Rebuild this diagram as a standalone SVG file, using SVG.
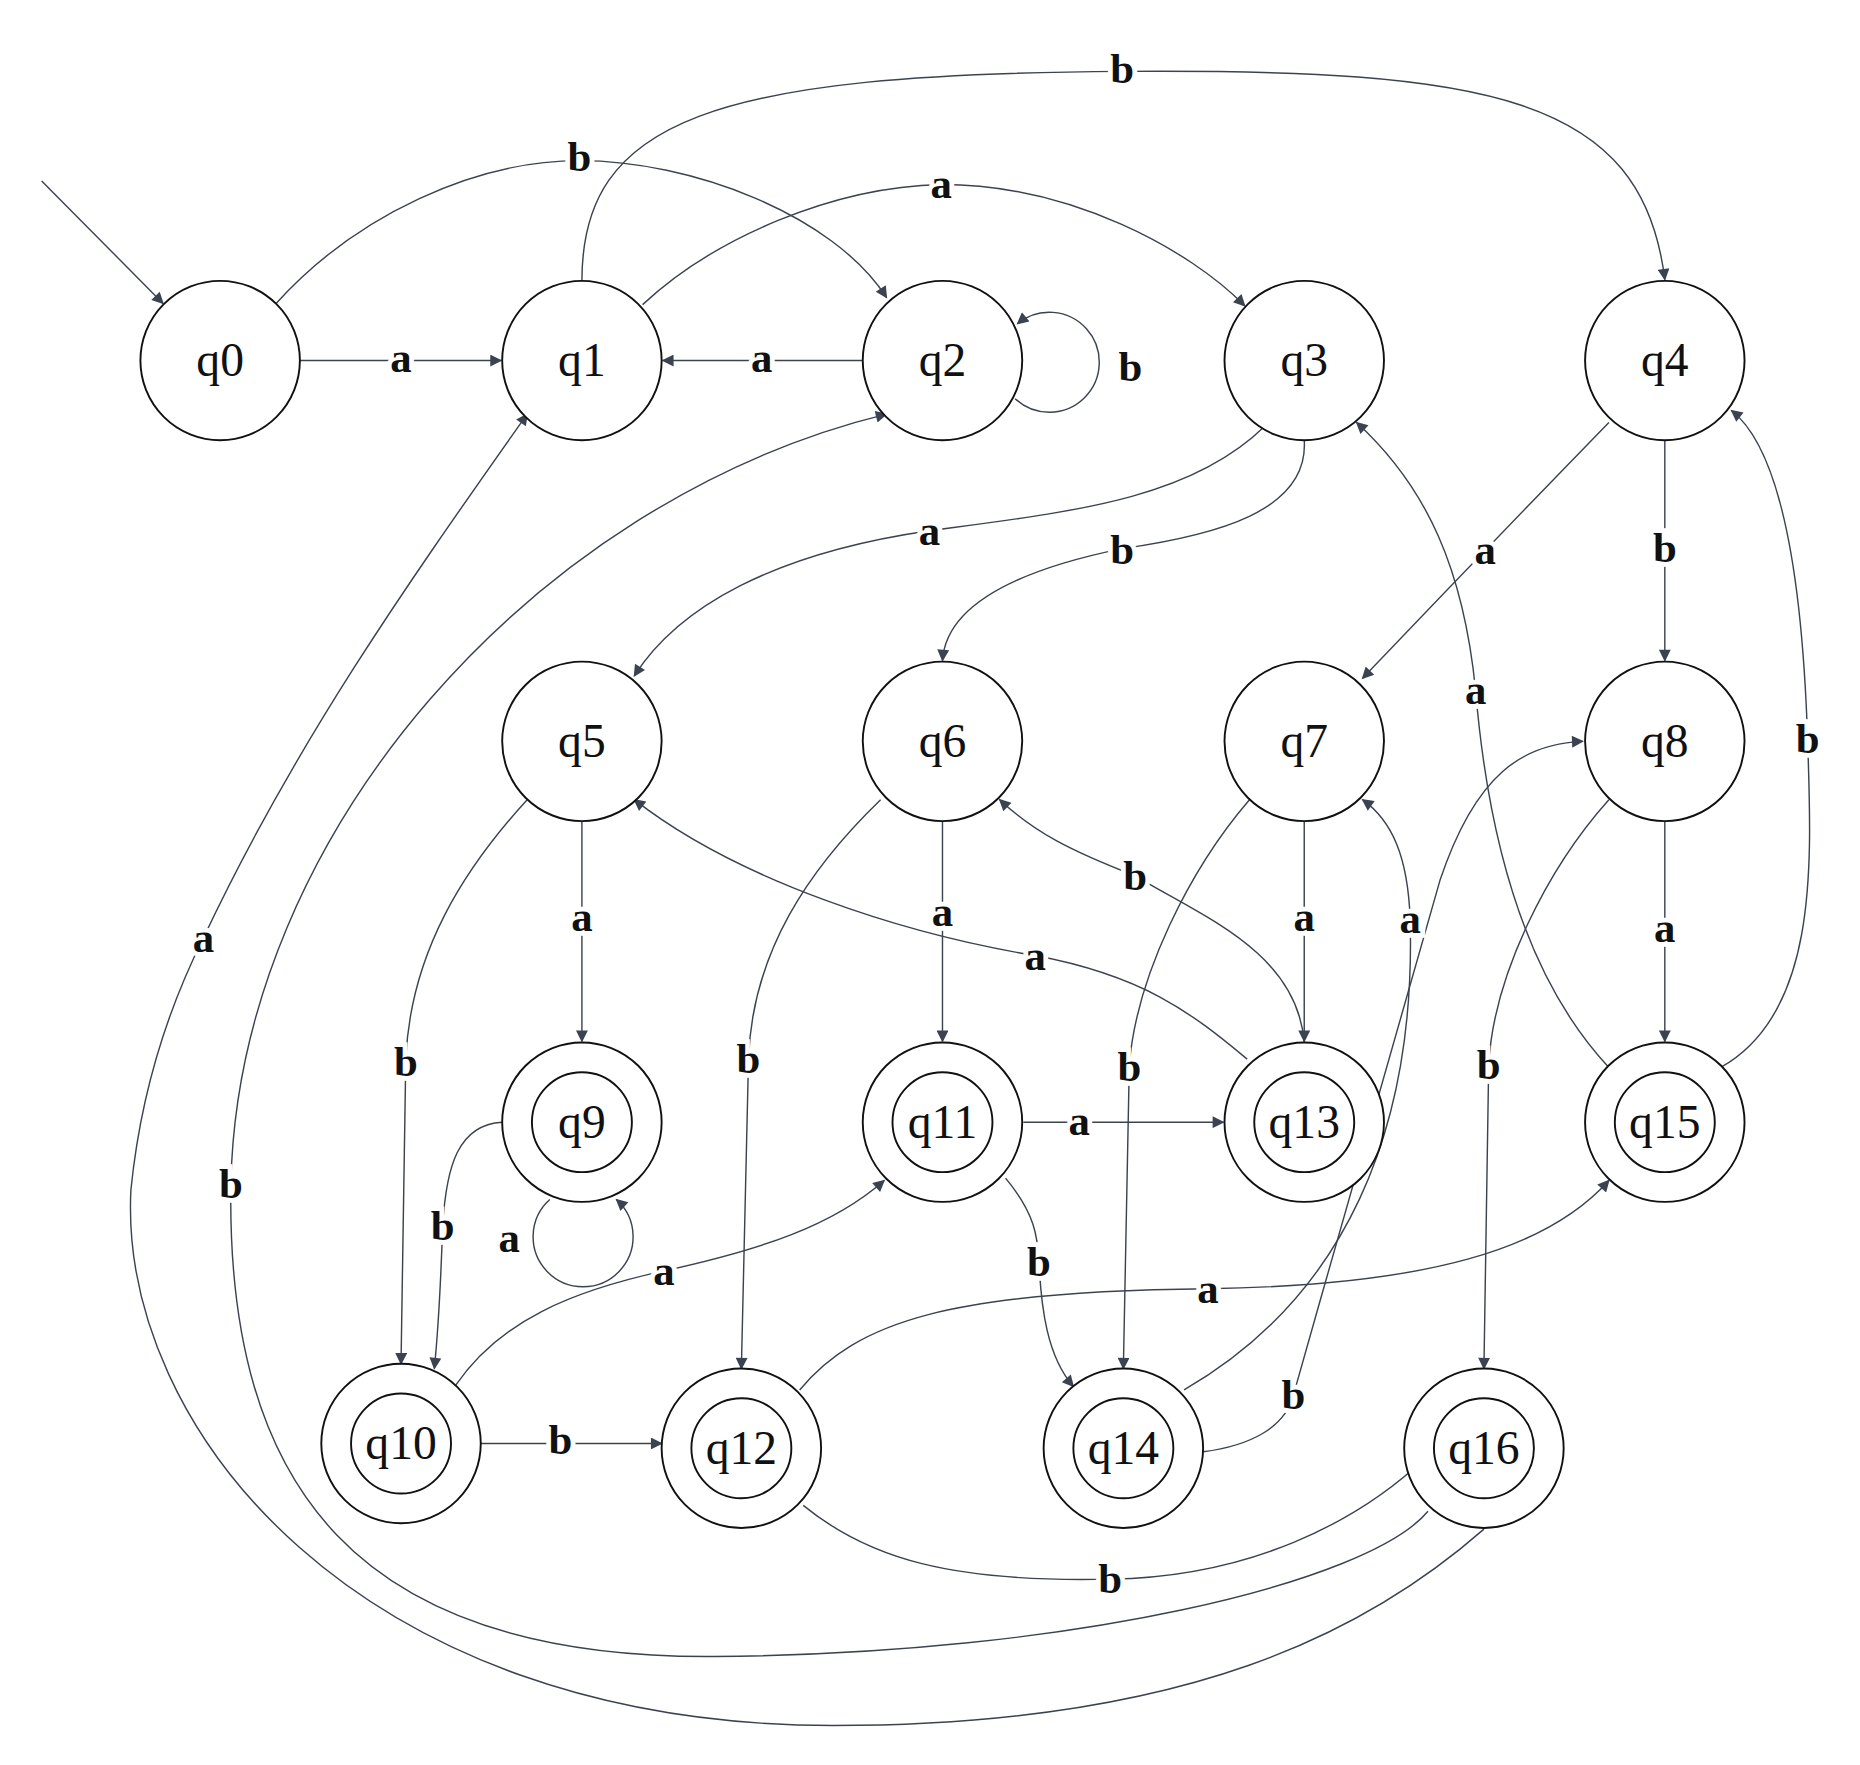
<svg xmlns="http://www.w3.org/2000/svg" width="1860" height="1765" viewBox="0 0 1860 1765">
<style>
.n{fill:#fff;stroke:#111;stroke-width:1.6}
.t{font-family:"Liberation Serif",serif;font-size:40px;text-anchor:middle;fill:#111}
.e{fill:none;stroke:#3c4350;stroke-width:1.2;marker-end:url(#ar)}
.l{font-family:"Liberation Serif",serif;font-weight:bold;font-size:36px;text-anchor:middle;fill:#111;stroke:#fff;stroke-width:8;paint-order:stroke}
</style>
<defs><marker id="ar" viewBox="0 0 10 10" refX="9" refY="5" markerWidth="12" markerHeight="10" markerUnits="userSpaceOnUse" orient="auto"><path d="M0,0L10,5L0,10z" fill="#3c4350"/></marker></defs>
<rect width="1860" height="1765" fill="#fff"/>
<g transform="scale(1.19)">
<g id="connectors">
<path class="e" d="M35,152L137,255"/>
<path class="e" d="M252,303L421,303"/>
<path class="e" d="M232,255C300,180 400,135 487,135C580,135 700,180 745,250"/>
<path class="e" d="M489,236C489,100 600,62 943,60C1250,58 1380,80 1399,235"/>
<path class="e" d="M540,256C600,200 700,157 791,155C900,155 1000,210 1046,257"/>
<path class="e" d="M725,303L557,303"/>
<path class="e" d="M853,335A42,42 0 1 0 855,272"/>
<path class="e" d="M1063,358C1000,420 900,430 781,446C650,465 570,510 533,568"/>
<path class="e" d="M1096,370C1100,430 1020,450 943,461C850,480 795,510 792,555"/>
<path class="e" d="M1352,355Q1250,460 1145,570"/>
<path class="e" d="M1399,370L1399,555"/>
<path class="e" d="M489,690L489,875"/>
<path class="e" d="M443,672C390,730 345,800 341,890L337,1146"/>
<path class="e" d="M792,690L792,875"/>
<path class="e" d="M740,672C680,730 632,800 629,890L623,1150"/>
<path class="e" d="M1096,690L1096,875"/>
<path class="e" d="M1050,672C1000,730 955,820 949,895L944,1150"/>
<path class="e" d="M1399,690L1399,875"/>
<path class="e" d="M1352,672C1300,730 1255,820 1251,895L1247,1150"/>
<path class="e" d="M462,1008A42,42 0 1 0 518,1008"/>
<path class="e" d="M422,943C385,945 375,980 372,1030C370,1090 368,1120 365,1150"/>
<path class="e" d="M383,1164C420,1110 480,1085 558,1068C640,1050 700,1030 743,992"/>
<path class="e" d="M404,1213L556,1213"/>
<path class="e" d="M860,943L1028,943"/>
<path class="e" d="M845,990C870,1020 872,1040 873,1060C875,1100 880,1140 902,1165"/>
<path class="e" d="M672,1168C720,1110 800,1085 1015,1083C1200,1080 1300,1050 1352,992"/>
<path class="e" d="M675,1265C730,1310 800,1330 933,1327C1050,1325 1140,1280 1198,1225"/>
<path class="e" d="M1048,890C1000,850 960,820 870,803C760,785 620,740 533,672"/>
<path class="e" d="M1096,876C1090,800 1010,770 954,736C900,715 870,700 840,672"/>
<path class="e" d="M995,1168C1130,1090 1190,950 1185,772C1183,720 1170,690 1145,672"/>
<path class="e" d="M1011,1220C1050,1215 1080,1200 1087,1172C1130,1020 1175,860 1210,740C1240,650 1280,625 1330,623"/>
<path class="e" d="M1352,897C1280,820 1250,700 1240,580C1230,480 1200,410 1140,355"/>
<path class="e" d="M1446,897C1530,850 1522,720 1519,621C1515,500 1500,380 1455,345"/>
<path class="e" d="M1247,1285C1150,1370 1000,1450 700,1450C300,1450 100,1200 110,1000C120,900 150,830 171,788C250,620 350,480 443,348"/>
<path class="e" d="M1200,1270C1150,1330 900,1390 600,1392C300,1394 190,1250 194,995C200,700 450,420 745,348"/>
<text class="l" x="337" y="313">a</text>
<text class="l" x="487" y="144" fill="#333">b</text>
<text class="l" x="943" y="70">b</text>
<text class="l" x="791" y="166">a</text>
<text class="l" x="640" y="313">a</text>
<text class="l" x="950" y="320">b</text>
<text class="l" x="781" y="458">a</text>
<text class="l" x="943" y="474">b</text>
<text class="l" x="1248" y="474">a</text>
<text class="l" x="1399" y="472">b</text>
<text class="l" x="489" y="782">a</text>
<text class="l" x="341" y="904">b</text>
<text class="l" x="792" y="778">a</text>
<text class="l" x="629" y="902">b</text>
<text class="l" x="1096" y="782" fill="#333">a</text>
<text class="l" x="949" y="908">b</text>
<text class="l" x="1399" y="792">a</text>
<text class="l" x="1251" y="907">b</text>
<text class="l" x="428" y="1052">a</text>
<text class="l" x="372" y="1042">b</text>
<text class="l" x="558" y="1080">a</text>
<text class="l" x="471" y="1222">b</text>
<text class="l" x="907" y="954">a</text>
<text class="l" x="873" y="1072">b</text>
<text class="l" x="1015" y="1095">a</text>
<text class="l" x="933" y="1339">b</text>
<text class="l" x="870" y="815">a</text>
<text class="l" x="954" y="748">b</text>
<text class="l" x="1185" y="784">a</text>
<text class="l" x="1087" y="1184">b</text>
<text class="l" x="1240" y="592">a</text>
<text class="l" x="1519" y="633">b</text>
<text class="l" x="171" y="800" fill="#333">a</text>
<text class="l" x="194" y="1007" fill="#333">b</text>
</g>
<g id="q0"><circle class="n" cx="185" cy="303" r="67"/><text class="t" x="185" y="316">q0</text></g>
<g id="q1"><circle class="n" cx="489" cy="303" r="67"/><text class="t" x="489" y="316">q1</text></g>
<g id="q2"><circle class="n" cx="792" cy="303" r="67"/><text class="t" x="792" y="316">q2</text></g>
<g id="q3"><circle class="n" cx="1096" cy="303" r="67"/><text class="t" x="1096" y="316">q3</text></g>
<g id="q4"><circle class="n" cx="1399" cy="303" r="67"/><text class="t" x="1399" y="316">q4</text></g>
<g id="q5"><circle class="n" cx="489" cy="623" r="67"/><text class="t" x="489" y="636">q5</text></g>
<g id="q6"><circle class="n" cx="792" cy="623" r="67"/><text class="t" x="792" y="636">q6</text></g>
<g id="q7"><circle class="n" cx="1096" cy="623" r="67"/><text class="t" x="1096" y="636">q7</text></g>
<g id="q8"><circle class="n" cx="1399" cy="623" r="67"/><text class="t" x="1399" y="636">q8</text></g>
<g id="q9"><circle class="n" cx="489" cy="943" r="67"/><circle class="n" cx="489" cy="943" r="42"/><text class="t" x="489" y="956">q9</text></g>
<g id="q11"><circle class="n" cx="792" cy="943" r="67"/><circle class="n" cx="792" cy="943" r="42"/><text class="t" x="792" y="956">q11</text></g>
<g id="q13"><circle class="n" cx="1096" cy="943" r="67"/><circle class="n" cx="1096" cy="943" r="42"/><text class="t" x="1096" y="956">q13</text></g>
<g id="q15"><circle class="n" cx="1399" cy="943" r="67"/><circle class="n" cx="1399" cy="943" r="42"/><text class="t" x="1399" y="956">q15</text></g>
<g id="q10"><circle class="n" cx="337" cy="1213" r="67"/><circle class="n" cx="337" cy="1213" r="42"/><text class="t" x="337" y="1226">q10</text></g>
<g id="q12"><circle class="n" cx="623" cy="1217" r="67"/><circle class="n" cx="623" cy="1217" r="42"/><text class="t" x="623" y="1230">q12</text></g>
<g id="q14"><circle class="n" cx="944" cy="1217" r="67"/><circle class="n" cx="944" cy="1217" r="42"/><text class="t" x="944" y="1230">q14</text></g>
<g id="q16"><circle class="n" cx="1247" cy="1217" r="67"/><circle class="n" cx="1247" cy="1217" r="42"/><text class="t" x="1247" y="1230">q16</text></g>
</g>
</svg>
